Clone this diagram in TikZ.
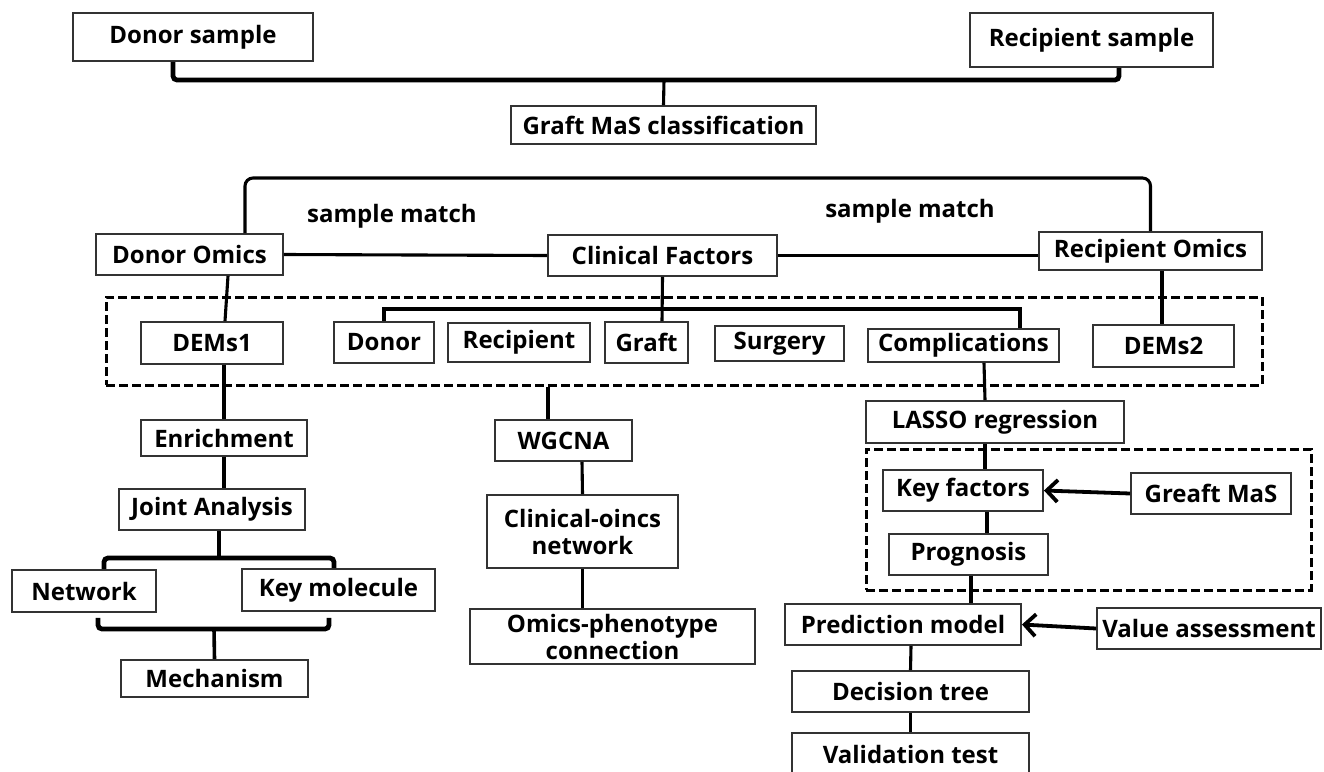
\documentclass[tikz,border=0pt]{standalone}
\usepackage{fontspec}
\setmainfont{Open Sans}
\usetikzlibrary{arrows.meta}
\tikzset{
  box/.style={draw=black!80, line width=1.9pt, fill=white, inner sep=0pt, align=center,
     font=\fontsize{24}{27}\selectfont\bfseries},
  conn/.style={line width=3.1pt, black},
  brk/.style={line width=4.8pt, black, rounded corners=4pt},
  dashbox/.style={draw=black, line width=3pt, dash pattern=on 9pt off 4pt, inner sep=0pt},
  arr/.style={line width=3.8pt, black, -{Straight Barb[length=11pt,width=22pt,line width=3.8pt]}},
  lbl/.style={font=\fontsize{24}{27}\selectfont\bfseries, inner sep=0pt}
}
\begin{document}
\begin{tikzpicture}[x=1pt,y=-1pt]
\useasboundingbox (0,0) rectangle (1324,771);
% dashed groups
\node[dashbox, minimum width=1156pt, minimum height=88pt] (db1) at (684,341) {};
\node[dashbox, minimum width=445pt, minimum height=141pt] (db2) at (1088.5,519.5) {};
% boxes
\node[box, minimum width=240pt, minimum height=48pt] (ds) at (193,37) {Donor sample};
\node[box, minimum width=243pt, minimum height=54pt] (rs) at (1091.5,40) {Recipient sample};
\node[box, minimum width=305pt, minimum height=38pt] (gm) at (663.5,125) {Graft MaS classification};
\node[box, minimum width=187pt, minimum height=41pt] (do) at (189.5,254.5) {Donor Omics};
\node[box, minimum width=229pt, minimum height=41pt] (cf) at (662.5,255.5) {Clinical Factors};
\node[box, minimum width=223pt, minimum height=38pt] (ro) at (1150.5,251) {Recipient Omics};
\node[box, minimum width=142pt, minimum height=42pt] (dem1) at (212,343) {DEMs1};
\node[box, minimum width=100pt, minimum height=41pt] (donor) at (384,342.5) {Donor};
\node[box, minimum width=142pt, minimum height=39pt] (recip) at (519,342.5) {Recipient};
\node[box, minimum width=83pt, minimum height=41pt] (graft) at (646.5,342.5) {Graft};
\node[box, minimum width=129pt, minimum height=35pt] (surg) at (779.5,343.5) {Surgery};
\node[box, minimum width=191pt, minimum height=33pt] (comp) at (963.5,345.5) {Complications};
\node[box, minimum width=141pt, minimum height=42pt] (dem2) at (1163.5,346) {DEMs2};
\node[box, minimum width=166pt, minimum height=36pt] (enr) at (224,438) {Enrichment};
\node[box, minimum width=137pt, minimum height=41pt] (wg) at (563.5,440.5) {WGCNA};
\node[box, minimum width=258pt, minimum height=42pt] (lasso) at (995,422) {LASSO regression};
\node[box, minimum width=160pt, minimum height=41pt] (kf) at (963,490.5) {Key factors};
\node[box, minimum width=160pt, minimum height=41pt] (gms) at (1211,493.5) {Greaft MaS};
\node[box, minimum width=159pt, minimum height=41pt] (prog) at (968.5,554.5) {Prognosis};
\node[box, minimum width=236pt, minimum height=41pt] (pm) at (903,624.5) {Prediction model};
\node[box, minimum width=224pt, minimum height=41pt] (va) at (1209,628.5) {Value assessment};
\node[box, minimum width=237pt, minimum height=41pt] (dt) at (910.5,691.5) {Decision tree};
\node[box, minimum width=237pt, minimum height=42pt] (vt) at (910.5,754) {Validation test};
\node[box, minimum width=186pt, minimum height=41pt] (ja) at (212,509.5) {Joint Analysis};
\node[box, minimum width=144pt, minimum height=42pt] (net) at (84,591) {Network};
\node[box, minimum width=193pt, minimum height=42pt] (km) at (338.5,590) {Key molecule};
\node[box, minimum width=187pt, minimum height=37pt] (mech) at (214.5,678.5) {Mechanism};
\node[box, minimum width=191pt, minimum height=73pt] (con) at (582.5,531.5) {Clinical-oincs\\network};
\node[box, minimum width=285pt, minimum height=55pt] (opc) at (612.5,636.5) {Omics-phenotype\\connection};
% labels
\node[lbl] (sm1) at (392,216) {sample match};
\node[lbl] (sm2) at (910,211) {sample match};
% junction coordinates
\coordinate (tj) at (664,80);
\coordinate (smt) at (700,178);
\coordinate (cb) at (700,309);
\coordinate (jb) at (219,558);
\coordinate (mb) at (214,629);
\coordinate (nb) at ([xshift=14pt,yshift=-5pt]net.south);
\coordinate (kb) at ([xshift=-9.5pt,yshift=-6pt]km.south);
% connectors
\draw[brk] ([xshift=-20pt]ds.south) |- (tj) -| ([xshift=27.5pt]rs.south);
\draw[conn] (tj) -- (gm.north);
\draw[conn, rounded corners=8pt] ([xshift=55.5pt]do.north) |- (smt) -| (ro.north);
\draw[conn] (do.east) -- (cf.west);
\draw[conn] (cf.east) -- (cf.east -| ro.west);
\draw[conn] ([xshift=38.5pt]do.south) -- ([xshift=13pt]dem1.north);
\draw[conn] ([xshift=11.5pt]ro.south) -- ([xshift=-1.5pt]dem2.north);
\draw[brk, rounded corners=0pt] (donor.north) |- (cb) -| ([xshift=56.5pt]comp.north);
\draw[conn] (cf.south) -- ([xshift=15.5pt]graft.north);
\draw[conn] ([xshift=20.5pt]comp.south) -- ([xshift=-10pt]lasso.north);
\draw[conn] ([xshift=-136pt]db1.south) -- ([xshift=-15.5pt]wg.north);
\draw[conn] ([xshift=12pt]dem1.south) -- (enr.north);
\draw[conn] (enr.south) -- (enr.south |- ja.north);
\draw[conn] ([xshift=18.5pt]wg.south) -- (con.north);
\draw[conn] (con.south) -- (con.south |- opc.north);
\draw[brk] ([xshift=20pt]net.north) |- (jb) -| ([xshift=-4.5pt]km.north);
\draw[conn, line width=3.6pt] ([xshift=7pt]ja.south) -- (jb);
\draw[brk] (nb) |- (mb) -| (kb);
\draw[conn, line width=3.6pt] (mb) -- (mech.north);
\draw[conn] ([xshift=-10pt]lasso.south) -- ([xshift=22pt]kf.north);
\draw[arr] (gms.west) -- (kf.east);
\draw[conn] ([xshift=24pt]kf.south) -- ([xshift=18.5pt]prog.north);
\draw[conn] ([xshift=2.5pt]prog.south) -- ([xshift=68pt]pm.north);
\draw[arr] (va.west) -- (pm.east);
\draw[conn] ([xshift=8pt]pm.south) -- (dt.north);
\draw[conn] (dt.south) -- (vt.north);
\end{tikzpicture}
\end{document}
